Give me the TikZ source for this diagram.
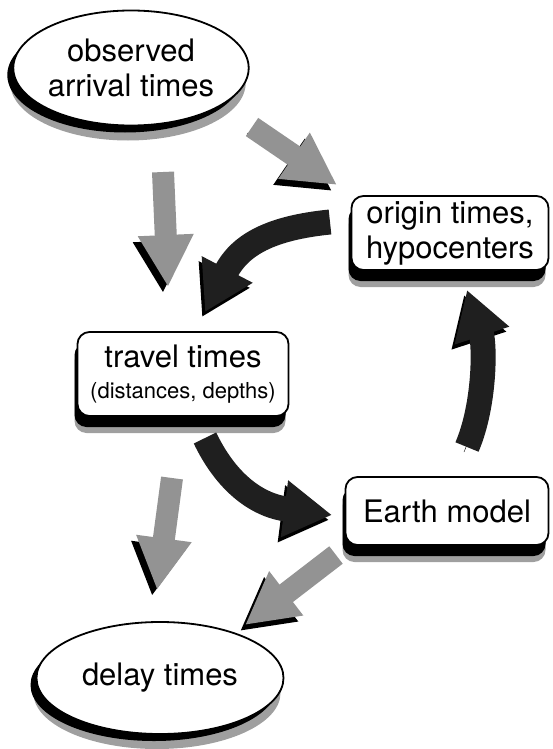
\documentclass[tikz,border=0pt]{standalone}
\usepackage{fontspec}
\setmainfont{TeX Gyre Heros}
\usetikzlibrary{arrows.meta, shapes.geometric, shadows}

\begin{document}
\begin{tikzpicture}[
  x=1pt, y=-1pt,
  font=\fontsize{31}{35}\selectfont,
  disk/.style={ellipse, draw, line width=1.8pt, fill=white, inner sep=0pt, align=center,
               general shadow={fill=gray!75, shadow xshift=-3pt, shadow yshift=-15pt},
               general shadow={fill=black, shadow xshift=-6pt, shadow yshift=-7pt}},
  card/.style={draw, rounded corners=12pt, line width=1.8pt, fill=white, inner sep=0pt, align=center,
               general shadow={fill=gray!75, shadow xshift=-3pt, shadow yshift=-17pt},
               general shadow={fill=black, shadow xshift=-3pt, shadow yshift=-11pt}},
  grayar/.style={line width=22pt, draw=gray!85, -{Triangle[length=52pt, width=52pt]},
                 preaction={draw=black, transform canvas={shift={(-5pt,-6pt)}}}},
  darkar/.style={line width=25pt, draw=black!88, -{Triangle[length=48pt, width=54pt]},
                 preaction={draw=black, transform canvas={shift={(-3pt,-5pt)}}}},
]
\useasboundingbox (0,0) rectangle (552,749);

\node[disk, minimum width=233pt, minimum height=115pt] (obs) at (131,68)
  {observed\\arrival times};
\node[card, minimum width=197pt, minimum height=74pt] (orig) at (450,233)
  {origin times,\\hypocenters};
\node[card, minimum width=211pt, minimum height=84pt] (trav) at (183,374)
  {travel times\\[-4pt]{\fontsize{22}{24}\selectfont(distances, depths)}};
\node[card, minimum width=203pt, minimum height=68pt] (earth) at (447,511)
  {Earth model};
\node[disk, minimum width=247pt, minimum height=112pt] (delay) at (160,678)
  {delay times};

% arrow ends
\coordinate (a1s) at (163,172);  \coordinate (a1e) at (168,287);
\coordinate (a2s) at (252,127);  \coordinate (a2e) at (337,185);
\coordinate (a3s) at (330,222);  \coordinate (a3e) at (205,312);
\coordinate (a4s) at (205,438);  \coordinate (a4e) at (332,515);
\coordinate (a5s) at (467,447);  \coordinate (a5e) at (467,290);
\coordinate (a6s) at (172,478);  \coordinate (a6e) at (157,590);
\coordinate (a7s) at (336,555);  \coordinate (a7e) at (245,625);

\draw[grayar] (a1s) -- (a1e);
\draw[grayar] (a2s) -- (a2e);
\draw[darkar] (a3s) .. controls (270,228) and (240,245) .. (a3e);
\draw[darkar] (a4s) .. controls (225,480) and (255,505) .. (a4e);
\draw[darkar] (a5s) .. controls (485,405) and (485,345) .. (a5e);
\draw[grayar] (a6s) -- (a6e);
\draw[grayar] (a7s) -- (a7e);
\end{tikzpicture}
\end{document}
